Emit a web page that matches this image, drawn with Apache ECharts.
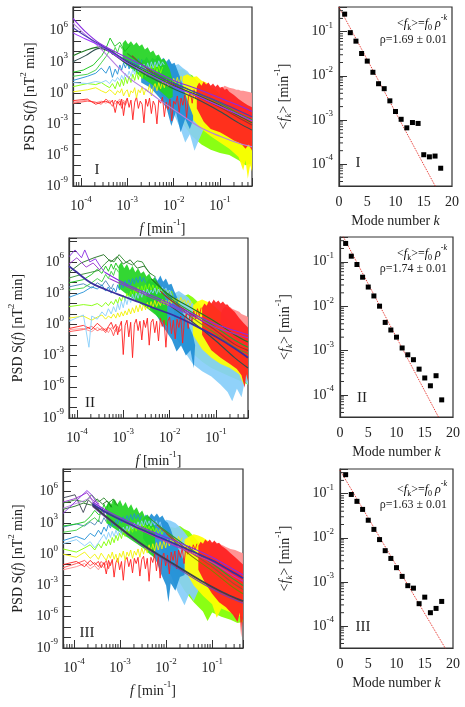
<!DOCTYPE html>
<html>
<head>
<meta charset="utf-8">
<script src="https://cdn.jsdelivr.net/npm/echarts@6.0.0/dist/echarts.min.js"></script>
<style>
html, body { margin: 0; padding: 0; background: #fff; }
#chart { width: 465px; height: 707px; }
</style>
</head>
<body>
<div id="chart"></div>
<script>
// ---- data; PSD arrays are [log10 f, log10 S] ----

// panel I
const p1PinkHi = [[-1.0,0.3],[-0.95,0.5],[-0.9,0.7],[-0.85,0.6],[-0.8,0.5],[-0.75,0.45],[-0.7,0.4],[-0.65,0.3],[-0.6,0.3],[-0.55,0.2],[-0.5,0.2],[-0.45,0.15],[-0.4,0.1],[-0.35,0.05],[-0.31,0.0]];
const p1PinkLo = [[-1.0,-1.0],[-0.8,-1.8],[-0.6,-2.2],[-0.45,-2.4],[-0.31,-2.6]];
const p1RedHi = [[-1.5,0.6],[-1.45,1.0],[-1.4,0.7],[-1.35,1.1],[-1.3,0.8],[-1.25,1.0],[-1.2,0.7],[-1.15,0.9],[-1.1,0.6],[-1.05,0.8],[-1.0,0.5],[-0.95,0.6],[-0.9,0.3],[-0.85,0.4],[-0.8,0.1],[-0.7,-0.2],[-0.6,-0.6],[-0.5,-0.9],[-0.4,-1.2],[-0.31,-1.4]];
const p1RedLo = [[-1.5,-1.5],[-1.35,-2.8],[-1.2,-3.5],[-1.0,-3.8],[-0.85,-4.2],[-0.7,-4.6],[-0.55,-4.9],[-0.45,-5.4],[-0.38,-5.0],[-0.31,-5.6]];
const p1YelHi = [[-1.8,1.6],[-1.7,1.8],[-1.6,1.5],[-1.5,1.6],[-1.4,1.2],[-1.3,1.0],[-1.2,0.6],[-1.1,0.3],[-1.0,-0.1],[-0.9,-0.5],[-0.8,-0.9],[-0.7,-1.3],[-0.6,-1.7],[-0.5,-2.1],[-0.4,-2.5],[-0.31,-2.8]];
const p1YelLo = [[-1.8,-1.0],[-1.6,-2.5],[-1.4,-3.5],[-1.2,-4.2],[-1.0,-4.8],[-0.8,-5.4],[-0.6,-6.2],[-0.5,-7.5],[-0.45,-6.5],[-0.4,-8.3],[-0.35,-7.0],[-0.31,-7.6]];
const p1LgrHi = [[-2.3,2.4],[-2.2,2.6],[-2.1,2.3],[-2.0,2.5],[-1.9,2.2],[-1.8,2.3],[-1.7,1.9],[-1.6,1.7],[-1.5,1.2],[-1.4,0.8],[-1.3,0.2],[-1.2,-0.4],[-1.0,-1.5],[-0.8,-2.8],[-0.6,-4.0],[-0.45,-4.8],[-0.31,-5.2]];
const p1LgrLo = [[-2.3,0.0],[-2.0,-1.5],[-1.8,-3.0],[-1.6,-4.2],[-1.4,-5.0],[-1.2,-5.5],[-1.0,-5.8],[-0.8,-6.0],[-0.6,-6.5],[-0.45,-7.0],[-0.31,-6.8]];
const p1LblHi = [[-2.2,2.7],[-2.1,3.0],[-2.0,2.6],[-1.9,2.8],[-1.8,2.4],[-1.7,2.1],[-1.6,1.5],[-1.5,0.9],[-1.4,0.2],[-1.3,-0.5]];
const p1LblLo = [[-2.2,-0.5],[-2.0,-2.0],[-1.85,-3.5],[-1.75,-4.8],[-1.65,-4.0],[-1.55,-5.6],[-1.45,-4.5],[-1.35,-3.5],[-1.3,-2.0]];
const p1BluHi = [[-2.7,3.3],[-2.64,3.1],[-2.58,3.5],[-2.52,3.0],[-2.46,3.4],[-2.4,3.2],[-2.34,3.6],[-2.28,3.1],[-2.22,3.4],[-2.16,3.0],[-2.1,3.3],[-2.04,2.8],[-1.98,2.9],[-1.92,2.2],[-1.86,1.5],[-1.8,0.6],[-1.72,-0.5],[-1.64,-1.5],[-1.58,-2.2]];
const p1BluLo = [[-2.7,1.0],[-2.5,0.5],[-2.3,-0.5],[-2.15,-1.5],[-2.05,-3.2],[-1.95,-1.8],[-1.85,-3.8],[-1.75,-2.5],[-1.65,-3.5],[-1.58,-2.6]];
const p1GrnHi = [[-3.1,4.8],[-3.04,5.1],[-2.98,4.7],[-2.92,5.0],[-2.86,4.6],[-2.8,4.9],[-2.74,4.5],[-2.68,4.7],[-2.62,4.2],[-2.56,4.4],[-2.5,3.9],[-2.44,4.1],[-2.38,3.6],[-2.32,3.7],[-2.26,3.2],[-2.2,3.3],[-2.14,2.8],[-2.08,2.2],[-2.02,1.2]];
const p1GrnLo = [[-3.1,3.0],[-2.9,2.3],[-2.7,1.5],[-2.5,0.9],[-2.3,0.2],[-2.1,-0.6],[-2.02,-0.4]];

const p1Red1 = [[-4.17,-0.75],[-3.86,-0.6],[-3.68,-1.1],[-3.56,-0.9],[-3.46,-0.8],[-3.38,-1.0],[-3.32,-0.7],[-3.26,-1.9],[-3.21,-0.8],[-3.16,-1.2],[-3.12,-0.6],[-3.08,-2.2],[-3.04,-0.9],[-3.0,-0.5],[-2.96,-1.4],[-2.92,-0.7],[-2.88,-2.6],[-2.84,-0.9],[-2.8,-0.4],[-2.76,-1.5],[-2.72,-0.8],[-2.68,-1.1],[-2.64,-2.9],[-2.6,-0.6],[-2.56,-1.3],[-2.52,-0.5],[-2.48,-2.0],[-2.44,-0.8],[-2.4,-1.2],[-2.36,-3.0],[-2.32,-0.7],[-2.28,-1.0],[-2.24,-0.4],[-2.2,-2.3],[-2.16,-0.9],[-2.12,-1.6],[-2.08,-0.6],[-2.04,-2.7],[-2.0,-0.8],[-1.96,-1.1],[-1.92,-0.3],[-1.88,-1.9],[-1.84,-0.5],[-1.8,-1.2],[-1.76,-0.2],[-1.72,-2.4],[-1.68,-0.4],[-1.64,0.1],[-1.6,-1.0],[-1.56,0.3],[-1.52,-0.6],[-1.48,0.6]];
const p1Red2 = [[-4.17,-1.0],[-3.86,-0.8],[-3.68,-0.9],[-3.56,-1.1],[-3.46,-0.6],[-3.38,-0.9],[-3.32,-1.3],[-3.26,-0.7],[-3.21,-1.0],[-3.16,-0.8],[-3.12,-1.5],[-3.08,-0.9],[-3.04,-1.2],[-3.0,-0.7]];
const p1Pink = [[-4.17,-0.9],[-3.86,-0.7],[-3.68,-0.95],[-3.56,-0.8],[-3.46,-1.0],[-3.38,-0.75],[-3.32,-0.9],[-3.26,-1.1],[-3.21,-0.8],[-3.16,-0.6],[-3.12,-1.2],[-3.08,-0.7],[-3.04,-1.0]];
const p1Yel = [[-4.17,0.1],[-3.86,0.3],[-3.68,0.5],[-3.56,0.2],[-3.46,0.0],[-3.38,0.3],[-3.32,0.1],[-3.26,-0.2],[-3.21,0.2],[-3.16,0.0],[-3.12,0.4],[-3.08,-0.3],[-3.04,0.1],[-3.0,0.3],[-2.96,-0.4],[-2.92,0.2],[-2.88,0.0],[-2.84,0.5],[-2.8,-0.5],[-2.76,0.3],[-2.72,0.0],[-2.68,0.6],[-2.64,-0.2],[-2.6,0.4],[-2.56,0.1],[-2.52,0.8],[-2.48,-0.3],[-2.44,0.5],[-2.4,0.9],[-2.36,0.2],[-2.32,1.0],[-2.28,0.4],[-2.24,1.1],[-2.2,0.5],[-2.16,1.3],[-2.12,0.6],[-2.08,1.2],[-2.04,0.7],[-2.0,1.4],[-1.96,0.9],[-1.92,1.5],[-1.88,0.8],[-1.84,1.6],[-1.8,1.1]];
const p1Lgr = [[-4.17,0.6],[-3.86,0.9],[-3.68,0.8],[-3.56,1.0],[-3.46,0.7],[-3.38,0.5],[-3.32,0.9],[-3.26,0.4],[-3.21,1.1],[-3.16,0.6],[-3.12,1.3],[-3.08,0.7],[-3.04,1.5],[-3.0,0.9],[-2.96,1.6],[-2.92,1.0],[-2.88,1.8],[-2.84,1.2],[-2.8,2.0],[-2.76,1.3],[-2.72,2.2],[-2.68,1.4],[-2.64,2.4],[-2.6,1.6],[-2.56,2.5],[-2.52,1.7],[-2.48,2.6],[-2.44,1.8],[-2.4,2.7],[-2.36,2.0],[-2.32,2.6],[-2.28,1.9],[-2.24,2.5]];
const p1Lbl = [[-4.17,1.0],[-3.86,0.9],[-3.68,1.1],[-3.56,1.0],[-3.46,1.2],[-3.38,0.9],[-3.32,1.3],[-3.26,1.1],[-3.21,1.5],[-3.16,1.2],[-3.12,1.7],[-3.08,1.3],[-3.04,1.9],[-3.0,1.5],[-2.96,2.1],[-2.92,1.6],[-2.88,2.3],[-2.84,1.8],[-2.8,2.5],[-2.76,2.0],[-2.72,2.7],[-2.68,2.1],[-2.64,2.8],[-2.6,2.2],[-2.56,2.9],[-2.52,2.3],[-2.48,3.0],[-2.44,2.4],[-2.4,3.0],[-2.36,2.5],[-2.32,3.1],[-2.28,2.6],[-2.24,3.0],[-2.2,2.7]];
const p1Blu = [[-4.17,1.2],[-3.86,1.6],[-3.68,1.9],[-3.56,2.4],[-3.46,1.9],[-3.38,2.6],[-3.32,1.5],[-3.26,2.3],[-3.21,1.8],[-3.16,2.7],[-3.12,2.2],[-3.08,2.9],[-3.04,2.4],[-3.0,3.0],[-2.96,2.3],[-2.92,3.1],[-2.88,2.6],[-2.84,3.2],[-2.8,2.5],[-2.76,3.3],[-2.72,2.7],[-2.68,3.2]];
const p1Grn1 = [[-4.17,2.0],[-3.95,2.2],[-3.73,2.7],[-3.55,3.6],[-3.46,4.3],[-3.37,5.3],[-3.27,4.5],[-3.16,4.9],[-3.05,4.0],[-2.94,4.6]];
const p1Grn2 = [[-4.17,1.6],[-3.86,1.8],[-3.68,2.2],[-3.56,2.9],[-3.46,3.5],[-3.38,4.1],[-3.32,3.7],[-3.26,4.4],[-3.21,3.9],[-3.16,4.6],[-3.1,4.2]];

const p1FitA = [[-4.17,7.2],[-3.9,5.9],[-3.6,4.8],[-3.0,3.4],[-2.5,2.3],[-2.0,1.2],[-1.5,0.4],[-1.0,-0.5],[-0.6,-1.2],[-0.31,-1.8]];
const p1FitB = [[-4.17,6.3],[-3.9,5.5],[-3.6,4.7],[-3.0,3.1],[-2.5,2.0],[-2.0,0.9],[-1.5,0.0],[-1.0,-0.9],[-0.6,-1.7],[-0.31,-2.3]];
const p1FitC = [[-4.17,5.8],[-3.9,5.2],[-3.6,4.6],[-3.0,2.9],[-2.5,1.7],[-2.0,0.6],[-1.5,-0.3],[-1.0,-1.3],[-0.6,-2.1],[-0.31,-2.7]];
const p1FitD = [[-4.17,3.6],[-3.9,4.1],[-3.6,4.45],[-3.0,3.0],[-2.5,1.8],[-2.0,0.7],[-1.5,-0.2],[-1.0,-1.2],[-0.6,-2.2],[-0.31,-2.9]];
const p1FitE = [[-4.17,3.0],[-3.9,3.6],[-3.6,4.3],[-3.0,2.8],[-2.5,1.5],[-2.0,0.4],[-1.5,-0.6],[-1.0,-1.8],[-0.6,-2.9],[-0.31,-3.6]];
const p1FitF = [[-3.0,3.8],[-2.5,2.2],[-2.0,1.0],[-1.5,0.0],[-1.0,-1.0],[-0.6,-2.0],[-0.31,-2.6]];
const p1FitG = [[-2.9,3.6],[-2.5,2.1],[-2.0,0.8],[-1.5,-0.3],[-1.0,-1.4],[-0.6,-2.4],[-0.31,-3.1]];
const p1FitH = [[-4.17,6.75],[-3.9,5.6],[-3.6,4.4],[-3.0,1.6],[-2.6,0.3],[-2.3,-0.7],[-2.0,-1.6],[-1.44,-3.3],[-1.0,-4.2],[-0.58,-4.9],[-0.31,-5.2]];

// panel II
const p2PinkHi = [[-0.9,1.0],[-0.85,1.5],[-0.8,1.7],[-0.75,1.6],[-0.7,1.7],[-0.65,1.5],[-0.6,1.4],[-0.55,1.3],[-0.5,1.2],[-0.45,1.0],[-0.4,0.9],[-0.35,0.8],[-0.31,0.7]];
const p2PinkLo = [[-0.9,-1.0],[-0.7,-1.6],[-0.5,-2.0],[-0.31,-2.3]];
const p2RedHi = [[-1.3,1.6],[-1.25,2.0],[-1.2,1.8],[-1.15,2.3],[-1.1,2.0],[-1.05,2.4],[-1.0,2.1],[-0.95,2.3],[-0.9,2.0],[-0.85,2.2],[-0.8,1.9],[-0.75,1.9],[-0.7,1.6],[-0.6,1.2],[-0.5,0.6],[-0.4,0.1],[-0.31,-0.3]];
const p2RedLo = [[-1.3,-1.0],[-1.1,-2.5],[-0.9,-3.2],[-0.7,-3.8],[-0.55,-4.3],[-0.45,-4.9],[-0.38,-6.1],[-0.35,-4.8],[-0.31,-5.5]];
const p2YelHi = [[-1.5,1.8],[-1.4,2.2],[-1.3,2.4],[-1.2,2.2],[-1.1,2.0],[-1.0,1.6],[-0.9,1.2],[-0.8,0.8],[-0.7,0.3],[-0.6,-0.2],[-0.5,-0.8],[-0.4,-1.3],[-0.31,-1.6]];
const p2YelLo = [[-1.5,-1.0],[-1.3,-2.4],[-1.1,-3.2],[-0.9,-3.8],[-0.7,-4.2],[-0.5,-4.8],[-0.4,-5.8],[-0.35,-4.6],[-0.31,-5.2]];
const p2LgrHi = [[-1.9,2.6],[-1.8,2.9],[-1.7,2.7],[-1.6,2.9],[-1.5,2.6],[-1.4,2.2],[-1.3,1.6],[-1.2,1.0],[-1.0,0.0],[-0.8,-1.0],[-0.6,-2.0],[-0.45,-2.7],[-0.31,-3.2]];
const p2LgrLo = [[-1.9,0.0],[-1.7,-1.5],[-1.5,-2.8],[-1.3,-3.6],[-1.1,-4.2],[-0.9,-4.6],[-0.7,-5.0],[-0.5,-5.4],[-0.31,-5.8]];
const p2LblHi = [[-1.9,3.0],[-1.8,3.2],[-1.7,2.9],[-1.6,2.6],[-1.5,2.0],[-1.4,1.4],[-1.3,0.6],[-1.2,-0.2],[-1.0,-1.5],[-0.8,-2.3],[-0.6,-2.9],[-0.45,-3.4],[-0.31,-3.8]];
const p2LblLo = [[-1.9,-1.0],[-1.7,-2.5],[-1.5,-3.8],[-1.3,-4.5],[-1.1,-5.0],[-0.9,-5.8],[-0.75,-6.5],[-0.65,-7.4],[-0.55,-6.2],[-0.45,-7.0],[-0.38,-5.5],[-0.31,-5.8]];
const p2BluHi = [[-2.5,4.0],[-2.44,4.4],[-2.38,4.0],[-2.32,4.6],[-2.26,4.2],[-2.2,4.7],[-2.14,4.1],[-2.08,4.4],[-2.02,3.8],[-1.96,3.9],[-1.9,3.2],[-1.84,2.6],[-1.78,1.8],[-1.7,1.0],[-1.6,0.0],[-1.5,-1.0]];
const p2BluLo = [[-2.5,2.0],[-2.3,1.0],[-2.1,-0.5],[-1.95,-1.5],[-1.85,-2.6],[-1.75,-2.0],[-1.65,-3.0],[-1.55,-2.5],[-1.48,-4.2],[-1.45,-2.0]];
const p2GrnHi = [[-3.1,5.6],[-3.04,6.0],[-2.98,5.4],[-2.92,5.8],[-2.86,5.2],[-2.8,5.6],[-2.74,5.0],[-2.68,5.4],[-2.62,4.9],[-2.56,5.1],[-2.5,4.6],[-2.44,4.9],[-2.38,4.3],[-2.32,4.5],[-2.26,3.9],[-2.2,3.6],[-2.12,2.8],[-2.05,2.0]];
const p2GrnLo = [[-3.1,3.5],[-2.9,2.8],[-2.7,2.2],[-2.5,1.6],[-2.3,0.9],[-2.15,0.2],[-2.05,-0.2]];

const p2Red1 = [[-4.17,-0.4],[-3.86,-0.1],[-3.68,-0.5],[-3.56,0.1],[-3.46,-0.3],[-3.38,-0.6],[-3.32,-0.2],[-3.26,0.2],[-3.21,-0.4],[-3.16,0.0],[-3.12,-1.0],[-3.08,-0.2],[-3.04,0.3],[-3.0,-2.9],[-2.96,-0.1],[-2.92,0.4],[-2.88,-1.2],[-2.84,0.2],[-2.8,-3.2],[-2.76,0.0],[-2.72,0.5],[-2.68,-0.6],[-2.64,0.3],[-2.6,-1.5],[-2.56,0.4],[-2.52,-0.3],[-2.48,0.6],[-2.44,-2.0],[-2.4,0.2],[-2.36,0.5],[-2.32,-0.8],[-2.28,0.3],[-2.24,-1.6],[-2.2,0.6],[-2.16,-0.2],[-2.12,0.4],[-2.08,-2.2],[-2.04,0.3],[-2.0,0.7],[-1.96,-0.9],[-1.92,0.4],[-1.88,-1.4],[-1.84,0.5],[-1.8,-0.3],[-1.76,0.8],[-1.72,-1.8],[-1.68,0.5],[-1.64,1.0],[-1.6,-0.4],[-1.56,1.1],[-1.52,0.2],[-1.48,1.3],[-1.44,0.5],[-1.4,1.5],[-1.36,0.8],[-1.32,1.6]];
const p2Red2 = [[-4.17,-0.7],[-3.86,-0.5],[-3.68,-0.2],[-3.56,-0.6],[-3.46,-0.4],[-3.38,-0.8],[-3.32,-0.3],[-3.26,-0.5],[-3.21,-1.1],[-3.16,-0.4],[-3.12,-0.2],[-3.08,-0.7],[-3.04,-0.4]];
const p2Pink = [[-4.17,-0.5],[-3.86,-0.4],[-3.68,-0.7],[-3.56,-0.3],[-3.46,-0.6],[-3.38,-0.4],[-3.32,-0.8],[-3.26,-0.3],[-3.21,-0.5],[-3.16,-0.7],[-3.12,-0.4]];
const p2Yel = [[-4.17,0.6],[-3.86,0.8],[-3.68,0.4],[-3.56,0.7],[-3.46,0.9],[-3.38,0.5],[-3.32,0.8],[-3.26,0.6],[-3.21,1.0],[-3.16,0.6],[-3.12,1.1],[-3.08,0.7],[-3.04,1.2],[-3.0,0.8],[-2.96,1.3],[-2.92,0.9],[-2.88,1.5],[-2.84,1.0],[-2.8,1.6],[-2.76,1.1],[-2.72,1.8],[-2.68,1.2],[-2.64,1.9],[-2.6,1.3],[-2.56,2.0],[-2.52,1.4],[-2.48,2.1],[-2.44,1.5],[-2.4,2.2],[-2.36,1.6],[-2.32,2.3],[-2.28,1.7],[-2.24,2.2],[-2.2,1.8],[-2.16,2.4],[-2.12,1.9],[-2.08,2.3],[-2.04,1.8],[-2.0,2.5],[-1.96,2.0],[-1.92,2.6],[-1.88,2.1],[-1.84,2.5],[-1.8,2.0],[-1.76,2.6],[-1.72,2.1],[-1.68,2.4],[-1.64,1.9],[-1.6,2.3],[-1.56,1.8],[-1.52,2.2]];
const p2Lgr = [[-4.17,1.7],[-3.86,1.9],[-3.68,1.8],[-3.56,2.0],[-3.46,1.7],[-3.38,2.1],[-3.32,1.8],[-3.26,2.2],[-3.21,1.9],[-3.16,2.4],[-3.12,2.0],[-3.08,2.6],[-3.04,2.2],[-3.0,2.8],[-2.96,2.3],[-2.92,3.0],[-2.88,2.5],[-2.84,3.2],[-2.8,2.7],[-2.76,3.4],[-2.72,2.8],[-2.68,3.6],[-2.64,3.0],[-2.6,3.7],[-2.56,3.1],[-2.52,3.8],[-2.48,3.2],[-2.44,3.9],[-2.4,3.3],[-2.36,3.8],[-2.32,3.2],[-2.28,3.7],[-2.24,3.1],[-2.2,3.6],[-2.16,3.0],[-2.12,3.4],[-2.08,2.9],[-2.04,3.3],[-2.0,2.8],[-1.96,3.2],[-1.92,2.7]];
const p2Lbl = [[-4.17,0.3],[-3.86,0.9],[-3.74,-2.2],[-3.68,0.8],[-3.56,0.5],[-3.46,1.2],[-3.38,0.8],[-3.32,1.5],[-3.26,1.0],[-3.21,1.7],[-3.16,1.2],[-3.12,2.0],[-3.08,1.4],[-3.04,2.2],[-3.0,1.6],[-2.96,2.5],[-2.92,1.9],[-2.88,2.7],[-2.84,2.1],[-2.8,2.9],[-2.76,2.3],[-2.72,3.0],[-2.68,2.5],[-2.64,3.2],[-2.6,2.6],[-2.56,3.3],[-2.52,2.8],[-2.48,3.4],[-2.44,2.9],[-2.4,3.3],[-2.36,3.0],[-2.32,3.5],[-2.28,2.9],[-2.24,3.4],[-2.2,3.0],[-2.16,3.6],[-2.12,3.1],[-2.08,3.5],[-2.04,3.0],[-2.0,3.3],[-1.96,2.8]];
const p2Blu1 = [[-4.17,2.6],[-3.86,3.1],[-3.68,3.6],[-3.56,3.4],[-3.46,3.8],[-3.38,3.2],[-3.32,3.6],[-3.26,3.0],[-3.21,3.5],[-3.16,3.1],[-3.12,3.8],[-3.08,3.3],[-3.04,4.0],[-3.0,3.5],[-2.96,4.2],[-2.92,3.6],[-2.88,4.3],[-2.84,3.8],[-2.8,4.4],[-2.76,3.9],[-2.72,4.5],[-2.68,4.0],[-2.64,4.6],[-2.6,4.1],[-2.56,4.5],[-2.52,4.0]];
const p2Blu2 = [[-4.17,3.6],[-3.86,3.9],[-3.68,3.5],[-3.56,4.0],[-3.46,3.7],[-3.38,4.2],[-3.32,3.8],[-3.26,3.4],[-3.21,3.9]];
const p2Grn1 = [[-4.17,4.0],[-3.86,4.3],[-3.68,4.8],[-3.56,5.3],[-3.46,4.9],[-3.38,5.6],[-3.32,5.1],[-3.26,5.8],[-3.21,5.3],[-3.16,5.9],[-3.1,5.4]];
const p2Grn2 = [[-4.17,3.3],[-3.86,3.5],[-3.68,4.0],[-3.56,4.4],[-3.46,4.1],[-3.38,4.8],[-3.32,4.4],[-3.26,5.1],[-3.21,4.7],[-3.16,5.4],[-3.1,5.0]];
const p2Dkg1 = [[-4.17,4.45],[-3.9,4.8],[-3.7,5.0],[-3.52,5.2],[-3.4,5.8],[-3.3,6.2],[-3.2,6.0],[-3.09,6.7],[-2.95,6.0],[-2.8,5.7],[-2.7,6.1],[-2.59,6.0],[-2.45,5.0],[-2.3,4.55]];
const p2Dkg2 = [[-4.17,5.0],[-3.91,5.9],[-3.63,6.4],[-3.42,6.7],[-3.27,6.0],[-3.13,6.5],[-3.0,5.8],[-2.85,6.2],[-2.7,5.4],[-2.55,5.6],[-2.4,4.8]];
const p2Pur1 = [[-4.17,6.5],[-4.04,7.15],[-3.9,6.4],[-3.83,7.15],[-3.72,6.0],[-3.6,6.3],[-3.5,5.6],[-3.4,5.0]];
const p2Pur2 = [[-4.17,5.8],[-4.0,6.4],[-3.8,5.5],[-3.65,5.9],[-3.5,5.2]];

const p2FitA = [[-3.4,5.0],[-3.0,4.0],[-2.5,3.0],[-2.0,2.0],[-1.5,1.0],[-1.0,0.0],[-0.6,-0.6],[-0.31,-1.0]];
const p2FitB = [[-3.3,4.4],[-3.0,3.8],[-2.5,2.8],[-2.0,1.8],[-1.5,0.8],[-1.0,-0.3],[-0.6,-0.9],[-0.31,-1.3]];
const p2FitC = [[-2.4,4.4],[-2.0,2.8],[-1.5,1.5],[-1.0,0.2],[-0.6,-1.0],[-0.31,-1.7]];
const p2FitD = [[-2.3,4.2],[-2.0,2.6],[-1.5,1.1],[-1.0,-0.3],[-0.6,-1.5],[-0.31,-2.2]];
const p2FitE = [[-2.2,3.2],[-2.0,2.4],[-1.5,0.9],[-1.0,-0.6],[-0.6,-1.9],[-0.31,-2.5]];
const p2FitF = [[-2.1,2.8],[-1.5,0.6],[-1.0,-0.9],[-0.6,-2.2],[-0.31,-2.8]];
const p2FitG = [[-4.17,5.6],[-4.0,5.0],[-3.7,4.0],[-3.35,3.3],[-3.0,2.7],[-2.64,2.1],[-2.3,1.5],[-1.93,0.9],[-1.5,0.0],[-1.0,-1.2],[-0.6,-2.3],[-0.31,-3.2]];
const p2FitH = [[-2.0,1.8],[-1.5,0.2],[-1.0,-1.6],[-0.6,-3.2],[-0.31,-4.2]];

// panel III
const p3PinkHi = [[-1.05,0.8],[-1.0,1.1],[-0.95,1.2],[-0.9,1.1],[-0.85,1.0],[-0.8,0.9],[-0.75,0.8],[-0.7,0.7],[-0.6,0.5],[-0.5,0.4],[-0.4,0.2],[-0.33,0.1]];
const p3PinkLo = [[-1.05,-1.0],[-0.8,-1.8],[-0.6,-2.3],[-0.33,-2.8]];
const p3RedHi = [[-1.3,0.8],[-1.25,1.2],[-1.2,1.0],[-1.15,1.4],[-1.1,1.2],[-1.05,1.4],[-1.0,1.1],[-0.95,1.3],[-0.9,1.0],[-0.85,1.1],[-0.8,0.8],[-0.7,0.5],[-0.6,0.1],[-0.5,-0.3],[-0.4,-0.7],[-0.33,-1.0]];
const p3RedLo = [[-1.3,-1.5],[-1.15,-2.8],[-1.0,-3.8],[-0.85,-4.6],[-0.7,-5.1],[-0.55,-5.8],[-0.45,-6.5],[-0.4,-5.6],[-0.37,-8.0],[-0.35,-6.2],[-0.33,-7.0]];
const p3YelHi = [[-1.6,1.4],[-1.5,1.7],[-1.4,1.9],[-1.3,1.8],[-1.2,1.6],[-1.1,1.3],[-1.0,0.9],[-0.9,0.5],[-0.8,0.0],[-0.7,-0.6],[-0.6,-1.2],[-0.5,-1.8],[-0.4,-2.3],[-0.33,-2.6]];
const p3YelLo = [[-1.6,-1.5],[-1.4,-3.0],[-1.2,-4.0],[-1.0,-4.8],[-0.9,-6.1],[-0.8,-5.2],[-0.6,-5.6],[-0.45,-5.9],[-0.33,-6.0]];
const p3LgrHi = [[-2.0,2.4],[-1.9,2.6],[-1.8,2.5],[-1.7,2.7],[-1.6,2.4],[-1.5,2.2],[-1.4,1.7],[-1.3,1.2],[-1.2,0.6],[-1.0,-0.6],[-0.8,-1.8],[-0.6,-3.0],[-0.45,-3.8],[-0.33,-4.2]];
const p3LgrLo = [[-2.0,0.0],[-1.8,-2.0],[-1.6,-3.5],[-1.4,-4.6],[-1.2,-5.5],[-1.1,-6.4],[-1.0,-5.6],[-0.8,-6.0],[-0.6,-6.3],[-0.45,-6.6],[-0.33,-6.5]];
const p3LblHi = [[-2.1,3.0],[-2.0,3.3],[-1.9,3.2],[-1.8,3.0],[-1.7,2.6],[-1.6,2.1],[-1.5,1.5],[-1.4,0.8],[-1.3,0.0],[-1.2,-0.8],[-1.1,-1.6]];
const p3LblLo = [[-2.1,-0.5],[-1.9,-2.0],[-1.75,-3.6],[-1.6,-4.9],[-1.5,-3.8],[-1.4,-4.5],[-1.3,-3.5],[-1.2,-2.8],[-1.1,-2.2]];
const p3BluHi = [[-2.5,3.4],[-2.44,3.8],[-2.38,3.5],[-2.32,3.9],[-2.26,3.6],[-2.2,3.9],[-2.14,3.5],[-2.08,3.7],[-2.02,3.2],[-1.96,3.0],[-1.9,2.4],[-1.84,1.6],[-1.76,0.8],[-1.68,0.0],[-1.6,-0.8]];
const p3BluLo = [[-2.5,1.5],[-2.35,0.5],[-2.2,-0.8],[-2.1,-2.0],[-2.0,-3.0],[-1.95,-4.6],[-1.9,-2.8],[-1.8,-3.5],[-1.7,-2.2],[-1.6,-2.0]];
const p3GrnHi = [[-3.3,4.6],[-3.24,5.1],[-3.18,4.7],[-3.12,5.3],[-3.06,4.8],[-3.0,5.2],[-2.94,4.6],[-2.88,5.0],[-2.82,4.4],[-2.76,4.8],[-2.7,4.2],[-2.64,4.5],[-2.58,3.9],[-2.52,4.2],[-2.46,3.6],[-2.4,3.8],[-2.32,3.1],[-2.24,2.6]];
const p3GrnLo = [[-3.3,3.0],[-3.1,2.4],[-2.9,1.8],[-2.7,1.2],[-2.5,0.6],[-2.35,0.0],[-2.24,-0.4]];

const p3Red1 = [[-4.24,-1.0],[-3.95,-0.7],[-3.77,-1.2],[-3.65,-0.6],[-3.55,-1.0],[-3.47,-0.7],[-3.41,-1.3],[-3.35,-0.8],[-3.3,-1.9],[-3.25,-0.6],[-3.21,-1.1],[-3.17,-0.5],[-3.13,-2.2],[-3.09,-0.8],[-3.05,-0.4],[-3.01,-1.5],[-2.97,-0.7],[-2.93,-2.5],[-2.89,-0.6],[-2.85,-0.3],[-2.81,-1.2],[-2.77,-0.5],[-2.73,-1.8],[-2.69,-0.4],[-2.65,-0.9],[-2.61,-0.3],[-2.57,-2.1],[-2.53,-0.5],[-2.49,-0.2],[-2.45,-1.4],[-2.41,-0.4],[-2.37,-2.6],[-2.33,-0.3],[-2.29,-0.8],[-2.25,0.0],[-2.21,-1.6],[-2.17,-0.2],[-2.13,-2.3],[-2.09,-0.4],[-2.05,0.1],[-2.01,-1.1],[-1.97,-0.1],[-1.93,-1.9],[-1.89,0.2],[-1.85,-0.6],[-1.81,0.3],[-1.77,-1.4],[-1.73,0.4],[-1.69,-0.3],[-1.65,0.6],[-1.61,-0.9],[-1.57,0.7],[-1.53,0.0],[-1.49,0.8],[-1.45,0.2],[-1.41,0.9],[-1.37,0.4],[-1.33,1.0]];
const p3Red2 = [[-4.24,-1.3],[-3.95,-0.9],[-3.77,-0.6],[-3.65,-1.1],[-3.55,-0.8],[-3.47,-1.2],[-3.41,-0.7],[-3.35,-1.0],[-3.3,-0.6],[-3.25,-1.4],[-3.21,-0.8]];
const p3Pink = [[-4.24,-1.5],[-3.95,-1.2],[-3.77,-0.9],[-3.65,-1.4],[-3.55,-1.1],[-3.47,-1.5],[-3.41,-1.0],[-3.35,-1.3],[-3.3,-0.9],[-3.25,-1.2]];
const p3Yel = [[-4.24,0.0],[-3.95,-0.3],[-3.77,0.2],[-3.65,-0.4],[-3.55,0.0],[-3.47,-0.5],[-3.41,0.1],[-3.35,-0.3],[-3.3,-0.6],[-3.25,0.0],[-3.21,-0.4],[-3.17,0.2],[-3.13,-0.5],[-3.09,0.0],[-3.05,-0.8],[-3.01,0.1],[-2.97,-0.3],[-2.93,0.3],[-2.89,-0.6],[-2.85,0.2],[-2.81,-0.2],[-2.77,0.4],[-2.73,-0.4],[-2.69,0.3],[-2.65,-0.1],[-2.61,0.5],[-2.57,-0.3],[-2.53,0.6],[-2.49,0.0],[-2.45,0.7],[-2.41,0.1],[-2.37,0.9],[-2.33,0.2],[-2.29,1.0],[-2.25,0.3],[-2.21,1.1],[-2.17,0.4],[-2.13,1.2],[-2.09,0.5],[-2.05,1.3],[-2.01,0.6],[-1.97,1.4],[-1.93,0.8],[-1.89,1.5],[-1.85,1.0],[-1.81,1.6],[-1.77,1.1],[-1.73,1.7],[-1.69,1.2],[-1.65,1.6]];
const p3Lgr = [[-4.24,0.5],[-3.95,0.2],[-3.77,0.6],[-3.65,0.9],[-3.55,0.4],[-3.47,1.0],[-3.41,0.6],[-3.35,1.2],[-3.3,0.8],[-3.25,1.4],[-3.21,0.9],[-3.17,1.6],[-3.13,1.1],[-3.09,1.8],[-3.05,1.3],[-3.01,2.0],[-2.97,1.5],[-2.93,2.2],[-2.89,1.7],[-2.85,2.4],[-2.81,1.9],[-2.77,2.6],[-2.73,2.1],[-2.69,2.7],[-2.65,2.2],[-2.61,2.8],[-2.57,2.3],[-2.53,2.9],[-2.49,2.4],[-2.45,2.8],[-2.41,2.3],[-2.37,2.7],[-2.33,2.2],[-2.29,2.6],[-2.25,2.1],[-2.21,2.5],[-2.17,2.0],[-2.13,2.4],[-2.09,1.9],[-2.05,2.3]];
const p3Lbl = [[-4.24,1.0],[-3.95,1.4],[-3.77,0.8],[-3.65,1.2],[-3.55,0.6],[-3.47,1.1],[-3.41,1.5],[-3.35,1.9],[-3.3,1.4],[-3.25,2.1],[-3.21,1.6],[-3.17,2.2],[-3.13,1.7],[-3.09,2.3],[-3.05,1.8],[-3.01,2.4],[-2.97,1.9],[-2.93,2.6],[-2.89,2.1],[-2.85,2.7],[-2.81,2.2],[-2.77,2.9],[-2.73,2.4],[-2.69,3.0],[-2.65,2.5],[-2.61,3.1],[-2.57,2.6],[-2.53,3.2],[-2.49,2.7],[-2.45,3.3],[-2.41,2.8],[-2.37,3.2],[-2.33,2.7],[-2.29,3.3],[-2.25,2.8],[-2.21,3.2],[-2.17,2.6],[-2.13,3.1],[-2.09,2.5]];
const p3Blu1 = [[-4.24,1.3],[-3.95,1.7],[-3.77,1.4],[-3.65,2.0],[-3.55,1.7],[-3.47,2.3],[-3.41,1.9],[-3.35,2.6],[-3.3,2.2],[-3.25,2.9],[-3.21,2.5],[-3.17,3.1],[-3.13,2.7],[-3.09,3.3],[-3.05,2.9],[-3.01,3.5],[-2.97,3.0],[-2.93,3.6],[-2.89,3.1],[-2.85,3.7],[-2.81,3.2],[-2.77,3.8],[-2.73,3.3],[-2.69,3.9],[-2.65,3.4],[-2.61,3.8],[-2.57,3.3],[-2.53,3.7]];
const p3Blu2 = [[-4.24,2.6],[-3.95,2.9],[-3.77,2.7],[-3.65,3.1],[-3.55,2.8],[-3.47,3.3],[-3.41,2.9],[-3.35,3.5],[-3.3,3.1]];
const p3Grn1 = [[-4.24,2.7],[-3.95,2.9],[-3.77,3.1],[-3.65,3.6],[-3.55,4.2],[-3.47,3.8],[-3.41,3.9],[-3.35,4.8],[-3.3,4.2],[-3.25,4.9],[-3.2,4.5],[-3.15,5.2],[-3.1,4.7]];
const p3Grn2 = [[-4.24,2.1],[-3.95,2.3],[-3.77,2.8],[-3.65,3.2],[-3.55,3.5],[-3.47,3.1],[-3.41,4.3],[-3.35,3.9],[-3.3,4.6],[-3.25,4.1],[-3.2,4.8]];
const p3Dkg1 = [[-4.24,4.9],[-3.98,5.2],[-3.76,5.0],[-3.62,5.7],[-3.47,5.0],[-3.35,5.4],[-3.25,4.9],[-3.15,5.3],[-3.05,4.6]];
const p3Dkg2 = [[-4.24,4.3],[-3.98,4.6],[-3.8,4.9],[-3.62,4.7],[-3.5,5.3],[-3.38,4.8],[-3.28,5.1],[-3.18,4.5]];
const p3Slate = [[-4.24,5.4],[-3.98,5.7],[-3.8,4.0],[-3.69,5.2],[-3.55,4.6],[-3.45,4.2]];
const p3Pur1 = [[-4.24,3.9],[-3.98,5.0],[-3.72,6.1],[-3.62,5.7],[-3.47,4.7],[-3.33,3.8]];
const p3Pur2 = [[-4.24,5.0],[-4.0,5.3],[-3.85,5.6],[-3.72,5.9],[-3.6,5.2],[-3.45,4.8]];
const p3Pur3 = [[-4.24,4.4],[-4.0,4.8],[-3.8,5.1],[-3.65,5.4],[-3.5,4.5]];

const p3FitA = [[-3.6,5.0],[-3.22,4.0],[-2.7,2.9],[-2.13,1.85],[-1.5,0.7],[-1.0,-0.3],[-0.6,-1.3],[-0.33,-2.0]];
const p3FitB = [[-3.6,4.8],[-3.22,3.8],[-2.7,2.7],[-2.13,1.6],[-1.5,0.4],[-1.0,-0.6],[-0.6,-1.6],[-0.33,-2.3]];
const p3FitC = [[-3.0,3.3],[-2.5,2.2],[-2.0,1.2],[-1.5,0.2],[-1.0,-0.8],[-0.6,-1.9],[-0.33,-2.6]];
const p3FitD = [[-2.4,3.6],[-2.0,2.2],[-1.5,0.6],[-1.0,-0.9],[-0.6,-2.2],[-0.33,-3.0]];
const p3FitE = [[-2.2,2.8],[-1.5,0.3],[-1.0,-1.2],[-0.6,-2.6],[-0.33,-3.4]];
const p3FitF = [[-2.0,2.0],[-1.5,0.0],[-1.0,-1.6],[-0.6,-3.0],[-0.33,-3.8]];
const p3FitG = [[-3.6,4.7],[-3.22,3.3],[-2.57,1.1],[-1.98,-0.55],[-1.26,-2.5],[-0.8,-3.6],[-0.5,-4.2],[-0.33,-4.5]];
const p3FitH = [[-3.6,4.6],[-3.22,3.2],[-2.57,1.0],[-1.98,-0.7],[-1.26,-2.7],[-0.8,-3.8],[-0.5,-4.4],[-0.33,-4.7]];

// right panels: mean frequency of each mode
const modeK = [1,2,3,4,5,6,7,8,9,10,11,12,13,14,15,16,17,18];
const fk1 = [0.25,0.095,0.061,0.032,0.0215,0.012,0.0066,0.0051,0.0027,0.00155,0.00103,0.00066,0.00087,0.00083,0.000162,0.000145,0.000151,0.00008];
const fk2 = [0.26,0.134,0.087,0.045,0.027,0.017,0.010,0.0043,0.0029,0.0020,0.00114,0.00080,0.00062,0.00038,0.00024,0.00016,0.00027,0.000077];
const fk3 = [0.27,0.096,0.067,0.044,0.025,0.0155,0.0091,0.0051,0.0034,0.0021,0.00133,0.00082,0.00072,0.00032,0.00045,0.00020,0.00025,0.00036];
const fit1 = [[0,0.36],[18,1.85e-5]];
const fit2 = [[0,0.51],[18,2.3e-5]];
const fit3 = [[0,0.34],[19,2.6e-5]];
const rhoText = ['ρ=1.69 ± 0.01', 'ρ=1.74 ± 0.01', 'ρ=1.63 ± 0.01'];
const romans = ['I', 'II', 'III'];

// axis extents (log10)
const xLo = [-4.17, -4.17, -4.24];
const xHi = [-0.31, -0.31, -0.33];
const yTop = [8.3, 8.3, 8.17];

// ---- chart ----
const FONT = 'Liberation Serif';
const INK = '#222';
const P = v => Math.pow(10, v);

const RICH = {
    b: { fontFamily: FONT, fontSize: 14, color: INK, lineHeight: 14, padding: [4, 0, 4, 0] },
    i: { fontFamily: FONT, fontSize: 14, color: INK, fontStyle: 'italic', lineHeight: 14, padding: [4, 0, 4, 0] },
    s: { fontFamily: FONT, fontSize: 9, color: INK, lineHeight: 10, padding: [0, 0, 12, 0] },
    d: { fontFamily: FONT, fontSize: 9, color: INK, fontStyle: 'italic', lineHeight: 10, padding: [11, 0, 1, 0] }
};
const ANN = {
    a: { fontFamily: FONT, fontSize: 12, color: INK, lineHeight: 12, padding: [4, 0, 4, 0] },
    ai: { fontFamily: FONT, fontSize: 12, color: INK, fontStyle: 'italic', lineHeight: 12, padding: [4, 0, 4, 0] },
    as: { fontFamily: FONT, fontSize: 8, color: INK, fontStyle: 'italic', lineHeight: 8, padding: [0, 0, 12, 0] },
    ad: { fontFamily: FONT, fontSize: 8, color: INK, lineHeight: 8, padding: [10, 0, 2, 0] }
};

function expOf(v) {
    const e = Math.log10(v);
    const r = Math.round(e);
    return Math.abs(e - r) < 1e-6 ? r : null;
}
function decLabel(v) {
    const e = expOf(v);
    return e === null ? '' : '{b|10}{s|' + e + '}';
}
function dec3Label(v) {
    const e = expOf(v);
    return e === null || e % 3 !== 0 ? '' : '{b|10}{s|' + e + '}';
}

function L(gi, arr, color, w, z) {
    return {
        type: 'line', xAxisIndex: gi, yAxisIndex: gi, symbol: 'none', silent: true,
        data: arr.map(d => [P(d[0]), P(d[1])]),
        lineStyle: { color: color, width: w }, z: z || 3
    };
}
function F(gi, arr, color, w) {
    const s = L(gi, arr, color, w || 1.1, 5);
    s.smooth = 0.35;
    return s;
}
function B(gi, hi, lo, color) {
    const poly = hi.concat(lo.slice().reverse());
    return {
        type: 'custom', xAxisIndex: gi, yAxisIndex: gi, silent: true, clip: true, z: 2,
        data: [[P(hi[0][0]), P(hi[0][1])]],
        renderItem: (params, api) => ({
            type: 'polygon',
            shape: { points: poly.map(d => api.coord([P(d[0]), P(d[1])])) },
            style: { fill: color, opacity: 0.92 }
        })
    };
}

// minor log ticks (2..9 per decade)
const minorVals = [];
[-6, -5, -4, -3, -2, -1].forEach(e => {
    for (let m = 2; m <= 9; m++) minorVals.push(m * Math.pow(10, e));
});
function xMinor(gi, lo, hi, base) {
    return {
        type: 'custom', xAxisIndex: gi, yAxisIndex: gi, silent: true, z: 6,
        data: minorVals.filter(v => v > P(lo) && v < P(hi)).map(v => [v, base]),
        renderItem: (params, api) => {
            const p = api.coord([api.value(0), api.value(1)]);
            return { type: 'line', shape: { x1: p[0], y1: p[1], x2: p[0], y2: p[1] - 4 }, style: { stroke: '#333', lineWidth: 1 } };
        }
    };
}
function yMinor(gi, lo, hi) {
    return {
        type: 'custom', xAxisIndex: gi, yAxisIndex: gi, silent: true, z: 6,
        data: minorVals.filter(v => v > P(lo) && v < P(hi)).map(v => [0, v]),
        renderItem: (params, api) => {
            const p = api.coord([api.value(0), api.value(1)]);
            return { type: 'line', shape: { x1: p[0], y1: p[1], x2: p[0] + 4, y2: p[1] }, style: { stroke: '#333', lineWidth: 1 } };
        }
    };
}

const C = {
    pink: '#ff8c8c', red: '#ff1e1e', yel: '#ffff00', lgr: '#80ff00', grn: '#22d422',
    lbl: '#87cefa', blu: '#1f8ed6', dkg: '#1e7a1e', pur: '#8a2be2'
};

function panelSeries(gi, d) {
    return [
        B(gi, d.lgrHi, d.lgrLo, C.lgr),
        B(gi, d.lblHi, d.lblLo, C.lbl),
        B(gi, d.yelHi, d.yelLo, C.yel),
        B(gi, d.pinkHi, d.pinkLo, C.pink),
        B(gi, d.redHi, d.redLo, C.red),
        B(gi, d.bluHi, d.bluLo, C.blu),
        B(gi, d.grnHi, d.grnLo, C.grn)
    ];
}

const grids = [
    { left: 73, top: 7, width: 179, height: 179 },
    { left: 69, top: 238, width: 179, height: 180 },
    { left: 63, top: 469, width: 180, height: 179 },
    { left: 339, top: 7, width: 113, height: 179 },
    { left: 340, top: 237, width: 113, height: 180 },
    { left: 340, top: 469, width: 113, height: 179 }
];

const axisLine = { show: true, lineStyle: { color: '#333', width: 1.2 } };
const xAxes = [], yAxes = [];
const yNameGap = [36, 44, 38];
for (let p = 0; p < 3; p++) {
    xAxes.push({
        type: 'log', logBase: 10, gridIndex: p, min: P(xLo[p]), max: P(xHi[p]),
        axisLine: axisLine, splitLine: { show: false },
        axisTick: { inside: true, length: 8, lineStyle: { color: '#333' } },
        axisLabel: { formatter: decLabel, rich: RICH, margin: 13 },
        name: '{i|f}{b| [min}{s|-1}{b|]}', nameLocation: 'middle', nameGap: 31,
        nameTextStyle: { rich: RICH }
    });
    yAxes.push({
        type: 'log', logBase: 10, gridIndex: p, min: 1e-9, max: P(yTop[p]), interval: 1,
        axisLine: axisLine, splitLine: { show: false },
        axisTick: { inside: true, length: 8, lineStyle: { color: '#333' } },
        axisLabel: { formatter: dec3Label, rich: RICH, margin: 5 },
        name: '{b|PSD S(}{i|f}{b|) [nT}{s|2}{b| min]}', nameLocation: 'middle', nameRotate: 90,
        nameGap: yNameGap[p], nameTextStyle: { rich: RICH }
    });
}
for (let p = 3; p < 6; p++) {
    xAxes.push({
        type: 'value', gridIndex: p, min: 0, max: 20, interval: 5,
        axisLine: axisLine, splitLine: { show: false }, axisTick: { show: false },
        axisLabel: { fontFamily: FONT, fontSize: 14, color: INK, margin: 9 },
        name: '{b|Mode number }{i|k}', nameLocation: 'middle', nameGap: 27,
        nameTextStyle: { rich: RICH }
    });
    yAxes.push({
        type: 'log', logBase: 10, gridIndex: p, min: P(-4.5), max: P(-0.44),
        axisLine: axisLine, splitLine: { show: false },
        axisTick: { inside: true, length: 8, lineStyle: { color: '#333' } },
        axisLabel: { formatter: decLabel, rich: RICH, margin: 6 },
        name: '{b|<}{i|f}{d|k}{b|> [min}{s|-1}{b|]}', nameLocation: 'middle', nameRotate: 90,
        nameGap: 48, nameTextStyle: { rich: RICH }
    });
}

const series = [];
// panel I
series.push(...panelSeries(0, {
    pinkHi: p1PinkHi, pinkLo: p1PinkLo, redHi: p1RedHi, redLo: p1RedLo, yelHi: p1YelHi, yelLo: p1YelLo,
    lgrHi: p1LgrHi, lgrLo: p1LgrLo, lblHi: p1LblHi, lblLo: p1LblLo, bluHi: p1BluHi, bluLo: p1BluLo,
    grnHi: p1GrnHi, grnLo: p1GrnLo
}));
series.push(
    L(0, p1Pink, C.pink, 0.9), L(0, p1Red2, '#ff4d4d', 0.9), L(0, p1Red1, C.red, 0.9),
    L(0, p1Yel, '#f2f200', 0.9), L(0, p1Lgr, C.lgr, 0.9), L(0, p1Lbl, C.lbl, 0.9),
    L(0, p1Blu, C.blu, 0.9), L(0, p1Grn2, '#3ccf3c', 0.9), L(0, p1Grn1, '#12c412', 0.9),
    F(0, p1FitG, '#a0302a'), F(0, p1FitF, '#2e9e2e'), F(0, p1FitE, '#2f4f4f'), F(0, p1FitD, C.dkg),
    F(0, p1FitH, '#b57ee0'), F(0, p1FitC, '#9b30ff'), F(0, p1FitB, '#4b3cb0'), F(0, p1FitA, C.pur)
);
// panel II
series.push(...panelSeries(1, {
    pinkHi: p2PinkHi, pinkLo: p2PinkLo, redHi: p2RedHi, redLo: p2RedLo, yelHi: p2YelHi, yelLo: p2YelLo,
    lgrHi: p2LgrHi, lgrLo: p2LgrLo, lblHi: p2LblHi, lblLo: p2LblLo, bluHi: p2BluHi, bluLo: p2BluLo,
    grnHi: p2GrnHi, grnLo: p2GrnLo
}));
series.push(
    L(1, p2Pink, C.pink, 0.9), L(1, p2Red2, '#ff4d4d', 0.9), L(1, p2Red1, C.red, 0.9),
    L(1, p2Yel, '#f2f200', 0.9), L(1, p2Lgr, C.lgr, 0.9), L(1, p2Lbl, C.lbl, 0.9),
    L(1, p2Blu2, '#4682b4', 0.9), L(1, p2Blu1, C.blu, 0.9), L(1, p2Grn2, '#3ccf3c', 0.9), L(1, p2Grn1, '#12c412', 0.9),
    L(1, p2Dkg2, '#1e6e1e', 0.9), L(1, p2Dkg1, '#2e8b2e', 0.9), L(1, p2Pur2, '#9932cc', 0.9), L(1, p2Pur1, C.pur, 0.9),
    F(1, p2FitH, '#2f4f4f'), F(1, p2FitF, '#6b8e23'), F(1, p2FitE, '#a0302a'), F(1, p2FitD, '#2e9e2e'),
    F(1, p2FitC, C.dkg), F(1, p2FitB, '#9932cc'), F(1, p2FitA, C.pur), F(1, p2FitG, '#3b2f9e', 1.8)
);
// panel III
series.push(...panelSeries(2, {
    pinkHi: p3PinkHi, pinkLo: p3PinkLo, redHi: p3RedHi, redLo: p3RedLo, yelHi: p3YelHi, yelLo: p3YelLo,
    lgrHi: p3LgrHi, lgrLo: p3LgrLo, lblHi: p3LblHi, lblLo: p3LblLo, bluHi: p3BluHi, bluLo: p3BluLo,
    grnHi: p3GrnHi, grnLo: p3GrnLo
}));
series.push(
    L(2, p3Pink, C.pink, 0.9), L(2, p3Red2, '#ff4d4d', 0.9), L(2, p3Red1, C.red, 0.9),
    L(2, p3Yel, '#f2f200', 0.9), L(2, p3Lgr, C.lgr, 0.9), L(2, p3Lbl, C.lbl, 0.9),
    L(2, p3Blu2, '#4682b4', 0.9), L(2, p3Blu1, C.blu, 0.9), L(2, p3Grn2, '#3ccf3c', 0.9), L(2, p3Grn1, '#12c412', 0.9),
    L(2, p3Dkg2, '#1e6e1e', 0.9), L(2, p3Dkg1, '#2e8b2e', 0.9), L(2, p3Slate, '#3a3f4f', 0.9),
    L(2, p3Pur3, '#b57ee0', 0.9), L(2, p3Pur2, '#9932cc', 0.9), L(2, p3Pur1, C.pur, 0.9),
    F(2, p3FitF, '#808000'), F(2, p3FitE, '#a0522d'), F(2, p3FitD, '#2e9e2e'), F(2, p3FitC, '#c030c0'),
    F(2, p3FitH, '#7b3fb0'), F(2, p3FitG, '#3a3f4f', 1.8), F(2, p3FitA, C.pur), F(2, p3FitB, '#3b2f9e', 1.8)
);
// minor ticks on the log axes
for (let p = 0; p < 3; p++) series.push(xMinor(p, xLo[p], xHi[p], 1e-9));
for (let p = 3; p < 6; p++) series.push(yMinor(p, -4.5, -0.44));

// right panels
[fk1, fk2, fk3].forEach((fk, j) => {
    const gi = 3 + j;
    const fit = [fit1, fit2, fit3][j];
    series.push({
        type: 'line', xAxisIndex: gi, yAxisIndex: gi, symbol: 'none', silent: true, z: 3,
        data: fit, lineStyle: { color: '#e3261f', width: 1, type: 'dotted' }
    });
    series.push({
        type: 'scatter', xAxisIndex: gi, yAxisIndex: gi, silent: true, z: 4,
        symbol: 'rect', symbolSize: 5, itemStyle: { color: '#000', opacity: 1 },
        data: modeK.map((k, i) => [k, fk[i]])
    });
});

// annotations
const annY = [[24, 40], [254, 269], [490, 505]];
const leftRoman = [[97, 170], [90, 403], [87, 633]];
const rightRoman = [[358, 163], [362, 398], [363, 627]];
const graphic = [];
for (let j = 0; j < 3; j++) {
    graphic.push({
        type: 'text', x: 447, y: annY[j][0], z: 20,
        style: { text: '{a|<}{ai|f}{ad|k}{a|>=}{ai|f}{ad|0}{a| }{ai|ρ}{as|-k}', rich: ANN,
                 align: 'right', verticalAlign: 'middle', textAlign: 'right', textVerticalAlign: 'middle' }
    });
    graphic.push({
        type: 'text', x: 447, y: annY[j][1], z: 20,
        style: { text: rhoText[j], font: '12px "Liberation Serif"', fill: INK,
                 align: 'right', verticalAlign: 'middle', textAlign: 'right', textVerticalAlign: 'middle' }
    });
    [leftRoman[j], rightRoman[j]].forEach(pos => {
        graphic.push({
            type: 'text', x: pos[0], y: pos[1], z: 20,
            style: { text: romans[j], font: '15px "Liberation Serif"', fill: INK,
                     align: 'center', verticalAlign: 'middle', textAlign: 'center', textVerticalAlign: 'middle' }
        });
    });
}

const chart = echarts.init(document.getElementById('chart'), null, { renderer: 'canvas' });
chart.setOption({
    animation: false,
    backgroundColor: '#fff',
    textStyle: { fontFamily: FONT },
    grid: grids.map(g => Object.assign({ show: true, borderColor: '#333', borderWidth: 1.2, backgroundColor: 'transparent' }, g)),
    xAxis: xAxes,
    yAxis: yAxes,
    series: series,
    graphic: graphic
});
</script>
</body>
</html>
